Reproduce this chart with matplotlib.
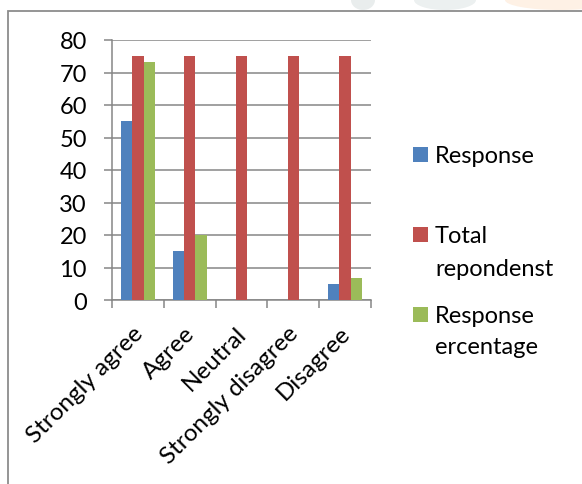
import matplotlib
matplotlib.use("Agg")
import matplotlib.pyplot as plt
from matplotlib.patches import Rectangle, Ellipse
from matplotlib.transforms import ScaledTranslation
import numpy as np

categories = ["Strongly agree", "Agree", "Neutral", "Strongly disagree", "Disagree"]
series_names = ["Response", "Total\nrepondenst", "Response\nercentage"]
response = [55, 15, 0, 0, 5]
total_respondents = [75, 75, 75, 75, 75]
response_pct = [73.33, 20, 0, 0, 6.67]
y_ticks = [0, 10, 20, 30, 40, 50, 60, 70, 80]

colors = ["#4F81BD", "#C0504D", "#9BBB59"]
grid_col = "#868686"

W, H = 582, 485
fig = plt.figure(figsize=(W / 100, H / 100), dpi=100)
plt.rcParams["font.family"] = ["Lato", "DejaVu Sans"]

def fx(px):
    return px / W

def fy(py):
    return 1 - py / H

# faint page watermark peeking above the chart frame
for cx, w, col in [(363, 24, "#E9EDED"), (445, 62, "#ECF0F0"), (560, 110, "#FEF1E5")]:
    fig.patches.append(Ellipse((fx(cx), fy(1)), fx(w), fy(0) - fy(20),
                               transform=fig.transFigure, facecolor=col,
                               edgecolor="none", zorder=-2))
# white chart area below the frame's top edge
fig.patches.append(Rectangle((fx(8), fy(700)), fx(700), fy(12) - fy(700),
                             transform=fig.transFigure, facecolor="white",
                             edgecolor="none", zorder=-1))

ax = fig.add_axes([fx(112), fy(301), fx(371) - fx(112), fy(41) - fy(301)])
ax.set_facecolor("none")

x = np.arange(len(categories))
bw = 0.22
for i, (vals, c) in enumerate(zip([response, total_respondents, response_pct], colors)):
    ax.bar(x + (i - 1) * bw, vals, width=bw, color=c, zorder=3, linewidth=0)

ax.set_xlim(-0.5, len(categories) - 0.5)
ax.set_ylim(0, 80)
ax.set_yticks(y_ticks)
ax.set_yticklabels([str(v) for v in y_ticks], fontsize=17)
ax.yaxis.grid(True, color=grid_col, linewidth=1.1, zorder=0)
ax.tick_params(axis="y", length=6, width=1.1, color=grid_col, pad=12)

ax.set_xticks(x)
ax.set_xticklabels(categories, rotation=45, ha="right", rotation_mode="anchor", fontsize=17.5)
ax.tick_params(axis="x", length=0, pad=16)
shift = ScaledTranslation(-4 / 72, 0, fig.dpi_scale_trans)
for lbl in ax.get_xticklabels():
    lbl.set_transform(lbl.get_transform() + shift)
ax.set_xticks(np.arange(-0.5, len(categories)), minor=True)
ax.tick_params(axis="x", which="minor", length=6, width=1.1, color=grid_col)

for side in ["top", "right"]:
    ax.spines[side].set_visible(False)
for side in ["left", "bottom"]:
    ax.spines[side].set_color(grid_col)
    ax.spines[side].set_linewidth(1.1)

# chart-area frame
fig.patches.append(Rectangle((fx(8), fy(700)), fx(700), fy(12) - fy(700),
                             transform=fig.transFigure, facecolor="none",
                             edgecolor="#8C8C8C", linewidth=1.3, zorder=2))

# legend: a square beside each series name, one text line per row
entry_baselines = [[163], [243, 276], [323, 354]]
for name, c, bases in zip(series_names, colors, entry_baselines):
    b0 = bases[0]
    fig.patches.append(Rectangle((fx(413), fy(b0)), fx(15), fy(b0 - 15) - fy(b0),
                                 transform=fig.transFigure, facecolor=c,
                                 edgecolor="none", zorder=2))
    for line, base in zip(name.split("\n"), bases):
        fig.text(fx(435), fy(base), line, fontsize=17, va="baseline", ha="left",
                 transform=fig.transFigure)

fig.savefig("out.png", dpi=100)
